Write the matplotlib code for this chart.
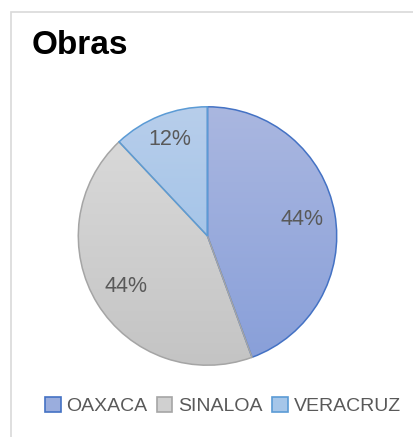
import matplotlib
matplotlib.use("Agg")
import matplotlib.pyplot as plt
import numpy as np
from matplotlib.patches import Rectangle, Patch
from matplotlib.colors import LinearSegmentedColormap

categories = ["OAXACA", "SINALOA", "VERACRUZ"]
values = [44.4, 43.6, 12.0]

top_colors = ["#AAB7E0", "#DCDCDC", "#B8CEEB"]
bot_colors = ["#889FD9", "#C4C4C4", "#93BCE6"]
edge_colors = ["#4472C4", "#A5A5A5", "#5B9BD5"]
legend_face = ["#9AADDD", "#D0D0D0", "#A6C6E9"]

fig = plt.figure(figsize=(4.14, 4.37), dpi=100)
fig.patch.set_facecolor("white")

# outer border (extends past right/bottom edges as in the reference crop)
fig.patches.append(Rectangle((11/414, 1-440/437), (420-11)/414, (440-12)/437,
                             transform=fig.transFigure, fill=False,
                             edgecolor="#D9D9D9", linewidth=1.2))

fig.text(32/414, 1-45/437, "Obras", fontsize=24, fontweight="bold",
         family="Liberation Sans", color="black", va="center", ha="left")

cx, cy, r = 207.5, 236, 130.5
ax = fig.add_axes([(cx-r)/414, (437-cy-r)/437, 2*r/414, 2*r/437])
wedges, texts, autotexts = ax.pie(values, startangle=90, counterclock=False,
                                  colors=legend_face, autopct="%1.0f%%",
                                  pctdistance=0.74, radius=1,
                                  wedgeprops=dict(linewidth=1.1),
                                  textprops=dict(color="#595959", fontsize=15.5,
                                                 family="Liberation Sans"))
ax.set_xlim(-1.01, 1.01)
ax.set_ylim(-1.01, 1.01)
ax.set_aspect("equal")
ax.axis("off")

grad = np.linspace(0, 1, 256).reshape(-1, 1)
for w, tc, bc, ec in zip(wedges, top_colors, bot_colors, edge_colors):
    cmap = LinearSegmentedColormap.from_list("g", [tc, bc])
    im = ax.imshow(grad, extent=[-1, 1, -1, 1], cmap=cmap, aspect="auto",
                   origin="upper", zorder=w.get_zorder() + 0.1)
    im.set_clip_path(w)
    w.set_facecolor("none")
    w.set_edgecolor(ec)
    w.set_zorder(w.get_zorder() + 0.2)

for t in autotexts:
    t.set_zorder(10)
# small category sits slightly farther out
x, y = autotexts[2].get_position()
autotexts[2].set_position((x * 0.8 / 0.74, y * 0.8 / 0.74))

handles = [Patch(facecolor=f, edgecolor=e, linewidth=1.2) for f, e in zip(legend_face, edge_colors)]
leg = fig.legend(handles, categories, loc="center", bbox_to_anchor=(223/414, 1-406/437),
                 ncol=3, frameon=False, handlelength=0.78, handleheight=0.78,
                 handletextpad=0.3, columnspacing=0.5, borderpad=0,
                 prop=dict(family="Liberation Sans", size=14))
for t in leg.get_texts():
    t.set_color("#595959")

fig.savefig("out.png", dpi=100, facecolor="white")
